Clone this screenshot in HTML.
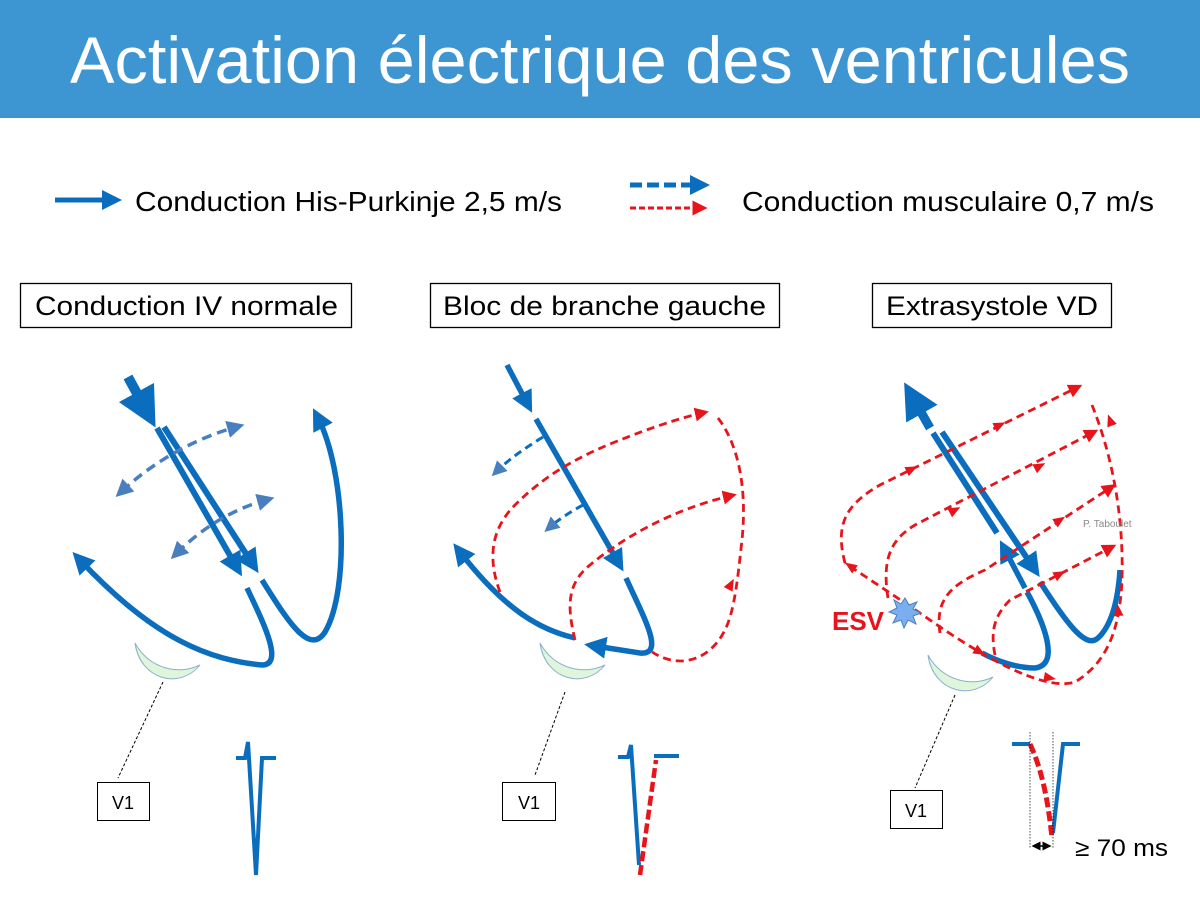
<!DOCTYPE html>
<html><head><meta charset="utf-8"><style>
html,body{margin:0;padding:0;background:#fff;}
svg{display:block;}
text{font-family:"Liberation Sans",Arial,sans-serif;}
</style></head><body>
<svg width="1200" height="900" viewBox="0 0 1200 900" xmlns="http://www.w3.org/2000/svg">
<defs>
<marker id="bh" markerWidth="4" markerHeight="4" refX="2" refY="2" orient="auto" markerUnits="strokeWidth"><path d="M0,0 L4,2 L0,4 z" fill="#0b6dbd"/></marker>
<marker id="bhs" markerWidth="5" markerHeight="5" refX="2.5" refY="2.5" orient="auto" markerUnits="strokeWidth"><path d="M0,0 L5,2.5 L0,5 z" fill="#4a7fbf"/></marker>
<marker id="bhs2" markerWidth="5" markerHeight="5" refX="2.5" refY="2.5" orient="auto-start-reverse" markerUnits="strokeWidth"><path d="M0,0 L5,2.5 L0,5 z" fill="#4a7fbf"/></marker>
<marker id="rh" markerWidth="5" markerHeight="5" refX="2.5" refY="2.5" orient="auto" markerUnits="strokeWidth"><path d="M0,0 L5,2.5 L0,5 z" fill="#e8141b"/></marker>
<marker id="kh" markerWidth="6" markerHeight="6" refX="5" refY="3" orient="auto-start-reverse" markerUnits="strokeWidth"><path d="M0,0 L6,3 L0,6 z" fill="#000"/></marker>
<polygon id="rt" points="-6,-5 6,0 -6,5" fill="#e8141b"/>
</defs>
<rect x="0" y="0" width="1200" height="118" fill="#3d95d2"/>
<text x="70" y="83" font-size="66" fill="#fff" textLength="1060" lengthAdjust="spacingAndGlyphs">Activation électrique des ventricules</text>

<line x1="55" y1="200" x2="112" y2="200" stroke="#0b6dbd" stroke-width="5" marker-end="url(#bh)"/>
<text x="135" y="211" font-size="28" fill="#000" textLength="427" lengthAdjust="spacingAndGlyphs">Conduction His-Purkinje 2,5 m/s</text>
<line x1="630" y1="185" x2="700" y2="185" stroke="#0b6dbd" stroke-width="5" stroke-dasharray="12,5" marker-end="url(#bh)"/>
<line x1="630" y1="208" x2="700" y2="208" stroke="#e8141b" stroke-width="3" stroke-dasharray="6,3" marker-end="url(#rh)"/>
<text x="742" y="211" font-size="28" fill="#000" textLength="412" lengthAdjust="spacingAndGlyphs">Conduction musculaire 0,7 m/s</text>

<rect x="20.5" y="283.5" width="331" height="44" fill="#fff" stroke="#000" stroke-width="1.3"/>
<text x="35" y="315" font-size="27" textLength="303" lengthAdjust="spacingAndGlyphs">Conduction IV normale</text>
<rect x="430.5" y="283.5" width="349" height="44" fill="#fff" stroke="#000" stroke-width="1.3"/>
<text x="443" y="315" font-size="27" textLength="323" lengthAdjust="spacingAndGlyphs">Bloc de branche gauche</text>
<rect x="872.5" y="283.5" width="239" height="44" fill="#fff" stroke="#000" stroke-width="1.3"/>
<text x="886" y="315" font-size="27" textLength="212" lengthAdjust="spacingAndGlyphs">Extrasystole VD</text>

<g fill="none" stroke-linecap="butt">
<line x1="128" y1="377" x2="146" y2="410" stroke="#0b6dbd" stroke-width="10" marker-end="url(#bh)"/>
<line x1="157" y1="428" x2="236" y2="566" stroke="#0b6dbd" stroke-width="6" marker-end="url(#bh)"/>
<line x1="164" y1="427" x2="252" y2="563" stroke="#0b6dbd" stroke-width="6" marker-end="url(#bh)"/>
<path d="M247,588 C262,620 285,665 262,665 C210,660 155,640 80,560" stroke="#0b6dbd" stroke-width="5.5" marker-end="url(#bh)"/>
<path d="M262,580 C290,625 310,655 325,632 C350,590 345,470 318,418" stroke="#0b6dbd" stroke-width="5.5" marker-end="url(#bh)"/>
<path d="M122,491 C150,465 190,440 236,427" stroke="#4a7fbf" stroke-width="3.5" stroke-dasharray="10,6" marker-start="url(#bhs2)" marker-end="url(#bhs)"/>
<path d="M177,553 C200,530 230,510 266,500" stroke="#4a7fbf" stroke-width="3.5" stroke-dasharray="10,6" marker-start="url(#bhs2)" marker-end="url(#bhs)"/>
<path d="M135,643 C150,670 180,675 200,665 C180,690 140,680 135,643 z" fill="#dff6dc" stroke="#8bb0cc" stroke-width="1"/>
<line x1="163" y1="682" x2="118" y2="778" stroke="#000" stroke-width="1" stroke-dasharray="3,2"/>

<line x1="507" y1="365" x2="527" y2="403" stroke="#0b6dbd" stroke-width="5.5" marker-end="url(#bh)"/>
<line x1="536" y1="419" x2="618" y2="562" stroke="#0b6dbd" stroke-width="5.5" marker-end="url(#bh)"/>
<path d="M626,578 C645,620 665,655 640,653 L595,646" stroke="#0b6dbd" stroke-width="5.5" marker-end="url(#bh)"/>
<path d="M575,638 C540,630 505,610 460,552" stroke="#0b6dbd" stroke-width="5.5" marker-end="url(#bh)"/>
<path d="M543,437 C525,448 508,460 497,471" stroke="#0b6dbd" stroke-width="3" stroke-dasharray="8,5" marker-end="url(#bhs)"/>
<path d="M583,505 C570,512 558,520 550,527" stroke="#0b6dbd" stroke-width="3" stroke-dasharray="8,5" marker-end="url(#bhs)"/>
<path d="M500,592 C488,560 490,530 515,505 C540,480 570,460 615,442 C650,428 680,418 702,413" stroke="#e8141b" stroke-width="2.8" stroke-dasharray="8,5" marker-end="url(#rh)"/>
<path d="M718,418 C735,440 748,480 742,540 C738,575 735,610 725,630 C710,660 680,670 652,652" stroke="#e8141b" stroke-width="2.8" stroke-dasharray="8,5"/>
<path d="M575,640 C568,610 565,585 590,565 C620,540 670,510 730,496" stroke="#e8141b" stroke-width="2.8" stroke-dasharray="8,5" marker-end="url(#rh)"/>
<use href="#rt" transform="translate(731,584) rotate(-62)"/>
<path d="M540,643 C555,670 585,675 605,665 C585,690 545,680 540,643 z" fill="#dff6dc" stroke="#8bb0cc" stroke-width="1"/>
<line x1="565" y1="692" x2="535" y2="775" stroke="#000" stroke-width="1" stroke-dasharray="3,2"/>

<line x1="930" y1="428" x2="913" y2="398" stroke="#0b6dbd" stroke-width="9" marker-end="url(#bh)"/>
<line x1="933" y1="433" x2="997" y2="533" stroke="#0b6dbd" stroke-width="6"/>
<line x1="942" y1="432" x2="1033" y2="567" stroke="#0b6dbd" stroke-width="6" marker-end="url(#bh)"/>
<path d="M1040,582 C1065,620 1085,650 1098,638 C1112,625 1118,600 1120,570" stroke="#0b6dbd" stroke-width="5.5"/>
<line x1="1025" y1="588" x2="1005" y2="550" stroke="#0b6dbd" stroke-width="5.5" marker-end="url(#bh)"/>
<path d="M1027,592 C1045,625 1060,665 1035,668 C1015,668 995,660 982,653" stroke="#0b6dbd" stroke-width="5.5"/>
<g stroke="#e8141b" stroke-width="2.8" stroke-dasharray="8,5">
<path d="M845,563 C835,525 845,505 880,485 L1076,388" marker-end="url(#rh)"/>
<path d="M888,598 C882,560 890,540 915,525 L1092,433" marker-end="url(#rh)"/>
<path d="M940,633 C935,600 950,585 985,570 L1110,488" marker-end="url(#rh)"/>
<path d="M995,655 C990,630 995,615 1010,600 L1110,548" marker-end="url(#rh)"/>
<path d="M1092,405 C1110,450 1124,510 1122,580 C1120,620 1112,660 1075,682 C1050,690 1000,670 920,613 L845,563" />
</g>
<use href="#rt" transform="translate(912,469) rotate(-26)"/>
<use href="#rt" transform="translate(1000,425) rotate(-26)"/>
<use href="#rt" transform="translate(955,510) rotate(-28)"/>
<use href="#rt" transform="translate(1040,466) rotate(-28)"/>
<use href="#rt" transform="translate(1060,520) rotate(-33)"/>
<use href="#rt" transform="translate(1060,574) rotate(-28)"/>
<use href="#rt" transform="translate(1110,420) rotate(-110)"/>
<use href="#rt" transform="translate(1118,610) rotate(-95)"/>
<use href="#rt" transform="translate(980,652) rotate(30)"/>
<use href="#rt" transform="translate(1050,678) rotate(10)"/>
<use href="#rt" transform="translate(850,566) rotate(-146)"/>
<polygon points="905,598 909,605 917,602 913,609 921,613 913,616 916,624 908,620 904,628 901,620 893,623 897,615 889,612 897,608 894,600 901,604" fill="#7aaef0" stroke="#4a7fbf" stroke-width="1"/>
<path d="M928,655 C943,682 973,687 993,677 C973,702 933,692 928,655 z" fill="#dff6dc" stroke="#8bb0cc" stroke-width="1"/>
<line x1="955" y1="695" x2="915" y2="788" stroke="#000" stroke-width="1" stroke-dasharray="3,2"/>
</g>
<text x="832" y="630" font-size="26" font-weight="bold" fill="#e8141b">ESV</text>
<text x="1083" y="527" font-size="10" fill="#888">P. Taboulet</text>

<rect x="97.5" y="782.5" width="52" height="38" fill="#fff" stroke="#000" stroke-width="1"/>
<text x="123" y="809" font-size="18" text-anchor="middle">V1</text>
<rect x="502.5" y="782.5" width="53" height="38" fill="#fff" stroke="#000" stroke-width="1"/>
<text x="529" y="809" font-size="18" text-anchor="middle">V1</text>
<rect x="890.5" y="790.5" width="52" height="38" fill="#fff" stroke="#000" stroke-width="1"/>
<text x="916" y="817" font-size="18" text-anchor="middle">V1</text>

<g fill="none" stroke="#0b6dbd" stroke-width="4" stroke-linejoin="miter">
<polyline points="236,758 245,758 248,742 256,875 262,758 276,758"/>
<polyline points="618,757 628,757 631,745 639,865"/>
<line x1="654" y1="756" x2="679" y2="756"/>
<polyline points="1012,744 1030,744"/>
<polyline points="1053,833 1063,744 1080,744"/>
</g>
<line x1="640" y1="875" x2="656" y2="760" stroke="#e8141b" stroke-width="4.5" stroke-dasharray="10,4"/>
<path d="M1030,744 C1042,770 1048,800 1052,838" fill="none" stroke="#e8141b" stroke-width="5" stroke-dasharray="10,4"/>
<line x1="1030" y1="732" x2="1030" y2="848" stroke="#000" stroke-width="0.7" stroke-dasharray="1.5,1.5"/>
<line x1="1053" y1="732" x2="1053" y2="848" stroke="#000" stroke-width="0.7" stroke-dasharray="1.5,1.5"/>
<line x1="1033" y1="846" x2="1050" y2="846" stroke="#000" stroke-width="1.5" marker-start="url(#kh)" marker-end="url(#kh)"/>
<text x="1075" y="856" font-size="24" textLength="93" lengthAdjust="spacingAndGlyphs">≥ 70 ms</text>
</svg>
</body></html>
